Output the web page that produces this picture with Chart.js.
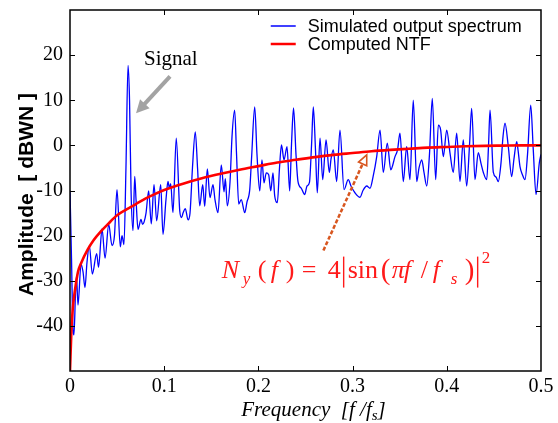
<!DOCTYPE html>
<html>
<head>
<meta charset="utf-8">
<script src="https://cdn.jsdelivr.net/npm/chart.js@4.4.1/dist/chart.umd.min.js"></script>
<style>
    body { margin: 0; background: #fff; }
    #wrap { width: 558px; height: 423px; }
</style>
</head>
<body>
<div id="wrap"><canvas id="ntfChart" width="558" height="423"></canvas></div>
<script>
// ========== DATA ==========
const seriesLabels = ['Simulated output spectrum', 'Computed NTF'];

// simulated output spectrum: frequency [f/fs] and amplitude [dBWN]
const specFreq = [
    0, 0.0016, 0.0032, 0.0042, 0.0058, 0.0069, 0.0085, 0.0117, 0.0138, 0.0159,
    0.0180, 0.0205, 0.0237, 0.0283, 0.0303, 0.0340, 0.0372, 0.0411, 0.0446, 0.0472,
    0.0499, 0.0534, 0.0552, 0.0573, 0.0594, 0.0616, 0.0632, 0.0648, 0.0669, 0.0687,
    0.0701, 0.0722, 0.0754, 0.0770, 0.0786, 0.0807, 0.0835, 0.0863, 0.0892, 0.0920,
    0.0963, 0.0987, 0.1019, 0.1040, 0.1056, 0.1069, 0.1093, 0.1128, 0.1165, 0.1184,
    0.1200, 0.1224, 0.1253, 0.1274, 0.1300, 0.1330, 0.1354, 0.1377, 0.1409, 0.1430,
    0.1458, 0.1486, 0.1518, 0.1539, 0.1571, 0.1606, 0.1635, 0.1649, 0.1670, 0.1699,
    0.1720, 0.1748, 0.1768, 0.1791, 0.1818, 0.1855, 0.1879, 0.1908, 0.1927, 0.1961,
    0.1985, 0.2014, 0.2038, 0.2059, 0.2084, 0.2109, 0.2131, 0.2155, 0.2173, 0.2201,
    0.2224, 0.2245, 0.2272, 0.2304, 0.2332, 0.2351, 0.2373, 0.2399, 0.2420, 0.2455,
    0.2492, 0.2516, 0.2542, 0.2564, 0.2583, 0.2606, 0.2625, 0.2654, 0.2683, 0.2718,
    0.2753, 0.2771, 0.2795, 0.2831, 0.2866, 0.2909, 0.2954, 0.2983, 0.3025, 0.3079,
    0.3110, 0.3150, 0.3185, 0.3217, 0.3256, 0.3291, 0.3326, 0.3368, 0.3405, 0.3450,
    0.3477, 0.3503, 0.3538, 0.3574, 0.3609, 0.3644, 0.3681, 0.3705, 0.3734, 0.3758,
    0.3787, 0.3816, 0.3846, 0.3882, 0.3910, 0.3935, 0.3963, 0.3999, 0.4034, 0.4069,
    0.4105, 0.4140, 0.4175, 0.4211, 0.4241, 0.4264, 0.4299, 0.4334, 0.4363, 0.4388,
    0.4424, 0.4443, 0.4459, 0.4494, 0.4522, 0.4547, 0.4575, 0.4597, 0.4618, 0.4653,
    0.4689, 0.4713, 0.4742, 0.4756, 0.4777, 0.4803, 0.4830, 0.4857, 0.4891, 0.4918,
    0.4947, 0.4982, 0.5
];
const specAmp = [
    -10, -25, -41, -42, -33, -29, -35.4, -26.3, -28, -31.5,
    -26, -22.2, -28.5, -24, -27, -18.5, -25, -17.5, -22.2, -20,
    -9.8, -22.5, -20, -22, -5, 17.7, 10, -10, -18.9, -6.9,
    -12, -18.6, -16.4, -17.5, -17, -15, -10.1, -17.4, -8.7, -16.7,
    -8.7, -19.7, -12, -8, -9.5, -8.5, -14.9, 1.6, -14.5, -16,
    -15, -14, -16.5, -15, -5, 3.0, -5, -13.4, -8.7, -13.5,
    -5.2, -11.6, -8.7, -12, -14.9, -4.3, -10.3, -7.4, -13.4, -8,
    2, 7.8, -2, -13, -12, -14.9, -12.5, -9.8, -3, 8.5,
    -2, -10.1, -3.2, -8.3, -6.1, -6.5, -10.1, -6.1, -11.2, -12.7,
    -5, 0.1, -3.2, -0.3, -10.1, 0, 8.3, -2, -8, -9.5,
    -10.9, -9, -8.2, 0, 8.5, -1, -10.5, 1.6, -7.6, 1.2,
    -6, -3, -1, -8, 3.4, -9.8, -7.6, -9, -10.5, -11.5,
    -10, -9, -9.5, -7, -2.5, 3.4, -6, 0.5, -5.4, -2.5,
    -1, 2.7, -8, -0.3, -7.6, 10, -8, -5, -3.2, -6,
    -9, -2, 10.4, -7.6, 4.5, 3.4, -2.5, 3.4, -1.7, -6,
    2.7, -8, 1.2, -9, 0, 8.2, -7.6, -1.6, -4, -6,
    -7.6, 0, 7.8, -6, -7, -8, -4, 2, 4.9, -0.3,
    -6.9, -3, 0.8, -1, -4.7, -6.5, -7.6, -2, 8.9, -1,
    -10.9, -3.9, -2
];

// computed NTF curve
const ntfFreq = [
    0, 0.0015, 0.003, 0.005, 0.0085, 0.012, 0.019, 0.025, 0.033, 0.04,
    0.05, 0.06, 0.07, 0.08, 0.09, 0.1, 0.12, 0.14, 0.16, 0.18,
    0.2, 0.22, 0.24, 0.26, 0.28, 0.3, 0.32, 0.34, 0.36, 0.38,
    0.4, 0.42, 0.44, 0.46, 0.48, 0.5
];
const ntfAmp = [
    -50, -41, -36, -32.5, -28, -26, -23, -21, -19, -17.5,
    -15.5, -14.2, -13, -11.8, -10.8, -9.9, -8.5, -7.3, -6.3, -5.4,
    -4.6, -3.8, -3.2, -2.6, -2.1, -1.7, -1.3, -1.0, -0.75, -0.5,
    -0.35, -0.2, -0.1, -0.05, 0, 0
];

const xTicks = [0, 0.1, 0.2, 0.3, 0.4, 0.5];
const yTicks = [-40, -30, -20, -10, 0, 10, 20];

// annotations, in data units (f, dB)
const signalArrow = { from: [0.1062, 15.3], to: [0.0701, 7.1], label: 'Signal', labelAt: [0.107, 19.5] };
const ntfArrow = { from: [0.269, -23.3], to: [0.315, -2.1] };
const formulaAt = [0.161, -29.3];

const SERIF = '"Liberation Serif", "Times New Roman", serif';
const SANS = '"Liberation Sans", Arial, sans-serif';

// ========== DRAW HELPERS ==========
function drawArrowHead(ctx, x1, y1, x2, y2, len, half, fill) {
    const a = Math.atan2(y2 - y1, x2 - x1);
    ctx.beginPath();
    ctx.moveTo(x2, y2);
    ctx.lineTo(x2 - len * Math.cos(a) + half * Math.sin(a), y2 - len * Math.sin(a) - half * Math.cos(a));
    ctx.lineTo(x2 - len * Math.cos(a) - half * Math.sin(a), y2 - len * Math.sin(a) + half * Math.cos(a));
    ctx.closePath();
    if (fill) ctx.fill(); else ctx.stroke();
}

function drawFormula(ctx, x0, yb) {
    // N_y(f) = 4|sin(πf / f_s)|^2
    const parts = [
        { t: 'N', dx: 0, it: true }, { t: 'y', dx: 21, it: true, sub: true },
        { t: '(', dx: 36 }, { t: 'f', dx: 49, it: true }, { t: ')', dx: 64 },
        { t: '=', dx: 80 }, { t: '4', dx: 106 }, { bar: true, dx: 122 },
        { t: 'sin', dx: 126 }, { t: '(', dx: 159, big: true }, { t: 'π', dx: 170, it: true },
        { t: 'f', dx: 182, it: true }, { t: '/', dx: 199 }, { t: 'f', dx: 211, it: true },
        { t: 's', dx: 229, it: true, sub: true }, { t: ')', dx: 243, big: true },
        { bar: true, dx: 256 }, { t: '2', dx: 260, sup: true }
    ];
    ctx.save();
    ctx.fillStyle = '#ff1a1a';
    ctx.strokeStyle = '#ff1a1a';
    ctx.textAlign = 'left';
    ctx.textBaseline = 'alphabetic';
    parts.forEach(p => {
        if (p.bar) {
            ctx.lineWidth = 1.4;
            ctx.beginPath();
            ctx.moveTo(x0 + p.dx, yb - 21);
            ctx.lineTo(x0 + p.dx, yb + 10);
            ctx.stroke();
            return;
        }
        let size = 26, dy = 0;
        if (p.big) { size = 29; dy = 1; }
        if (p.sub) { size = 17; dy = 6; }
        if (p.sup) { size = 17; dy = -15; }
        ctx.font = (p.it ? 'italic ' : '') + size + 'px ' + SERIF;
        ctx.fillText(p.t, x0 + p.dx, yb + dy);
    });
    ctx.restore();
}

// ========== FRAME / TICKS / LEGEND / NOTES ==========
const framePlugin = {
    id: 'frame',
    afterDatasetsDraw(chart) {
        const { ctx, chartArea: a, scales: { x, y } } = chart;
        ctx.save();

        // box
        ctx.strokeStyle = '#000';
        ctx.lineWidth = 1.5;
        ctx.strokeRect(a.left, a.top, a.right - a.left, a.bottom - a.top);

        // inward tick marks on all four sides
        ctx.lineWidth = 1;
        ctx.beginPath();
        xTicks.slice(1, -1).forEach(v => {
            const px = Math.round(x.getPixelForValue(v)) + 0.5;
            ctx.moveTo(px, a.bottom); ctx.lineTo(px, a.bottom - 5);
            ctx.moveTo(px, a.top); ctx.lineTo(px, a.top + 5);
        });
        yTicks.forEach(v => {
            const py = Math.round(y.getPixelForValue(v)) + 0.5;
            ctx.moveTo(a.left, py); ctx.lineTo(a.left + 5, py);
            ctx.moveTo(a.right, py); ctx.lineTo(a.right - 5, py);
        });
        ctx.stroke();

        // legend, top right inside the plot
        const lx = x.getPixelForValue(0.2131);
        chart.data.datasets.forEach((ds, i) => {
            const ly = a.top + 16 + i * 18;
            ctx.strokeStyle = ds.borderColor;
            ctx.lineWidth = i === 0 ? 1.5 : 2.5;
            ctx.beginPath();
            ctx.moveTo(lx, ly); ctx.lineTo(lx + 25, ly);
            ctx.stroke();
            ctx.fillStyle = '#000';
            ctx.font = '18px ' + SANS;
            ctx.textBaseline = 'middle';
            ctx.fillText(ds.label, lx + 37, ly + 1);
        });

        // "Signal" arrow
        const s0x = x.getPixelForValue(signalArrow.from[0]), s0y = y.getPixelForValue(signalArrow.from[1]);
        const s1x = x.getPixelForValue(signalArrow.to[0]), s1y = y.getPixelForValue(signalArrow.to[1]);
        ctx.strokeStyle = '#a3a3a3';
        ctx.fillStyle = '#a3a3a3';
        ctx.lineWidth = 4;
        const sa = Math.atan2(s1y - s0y, s1x - s0x);
        ctx.beginPath();
        ctx.moveTo(s0x, s0y);
        ctx.lineTo(s1x - 10 * Math.cos(sa), s1y - 10 * Math.sin(sa));
        ctx.stroke();
        drawArrowHead(ctx, s0x, s0y, s1x, s1y, 13, 6.5, true);
        ctx.fillStyle = '#000';
        ctx.font = '21px ' + SERIF;
        ctx.textAlign = 'center';
        ctx.textBaseline = 'alphabetic';
        ctx.fillText(signalArrow.label, x.getPixelForValue(signalArrow.labelAt[0]), y.getPixelForValue(signalArrow.labelAt[1]) + 8);

        // dashed arrow to the NTF curve
        const n0x = x.getPixelForValue(ntfArrow.from[0]), n0y = y.getPixelForValue(ntfArrow.from[1]);
        const n1x = x.getPixelForValue(ntfArrow.to[0]), n1y = y.getPixelForValue(ntfArrow.to[1]);
        const na = Math.atan2(n1y - n0y, n1x - n0x);
        ctx.strokeStyle = '#d8561f';
        ctx.lineWidth = 2.5;
        ctx.setLineDash([4, 2]);
        ctx.beginPath();
        ctx.moveTo(n0x, n0y);
        ctx.lineTo(n1x - 9 * Math.cos(na), n1y - 9 * Math.sin(na));
        ctx.stroke();
        ctx.setLineDash([]);
        ctx.lineWidth = 1.6;
        drawArrowHead(ctx, n0x, n0y, n1x, n1y, 10, 4.5, false);

        ctx.restore();

        drawFormula(ctx, x.getPixelForValue(formulaAt[0]), y.getPixelForValue(formulaAt[1]));
    },
    afterDraw(chart) {
        const { ctx, chartArea: a } = chart;
        ctx.save();
        ctx.fillStyle = '#000';

        // y axis title
        ctx.translate(27, (a.top + a.bottom) / 2 + 4);
        ctx.rotate(-Math.PI / 2);
        ctx.font = 'bold 21px ' + SANS;
        ctx.textAlign = 'center';
        ctx.textBaseline = 'middle';
        ctx.fillText('Amplitude  [ dBWN ]', 0, 0);
        ctx.restore();

        // x axis title: Frequency  [f /f_s]
        ctx.save();
        ctx.fillStyle = '#000';
        ctx.textBaseline = 'alphabetic';
        ctx.font = 'italic 21px ' + SERIF;
        const main = 'Frequency  [f /f';
        const wMain = ctx.measureText(main).width;
        ctx.font = 'italic 15px ' + SERIF;
        const wSub = ctx.measureText('s').width;
        ctx.font = 'italic 21px ' + SERIF;
        const wEnd = ctx.measureText(']').width;
        const total = wMain + wSub + wEnd;
        let tx = (a.left + a.right) / 2 + 8 - total / 2;
        const ty = 416;
        ctx.fillText(main, tx, ty);
        tx += wMain;
        ctx.font = 'italic 15px ' + SERIF;
        ctx.fillText('s', tx, ty + 4);
        tx += wSub;
        ctx.font = 'italic 21px ' + SERIF;
        ctx.fillText(']', tx, ty);
        ctx.restore();
    }
};

// ========== CHART ==========
function renderNtfChart() {
    const canvas = document.getElementById('ntfChart');

    const chart = new Chart(canvas, {
        type: 'scatter',
        data: {
            datasets: [
                {
                    label: seriesLabels[0],
                    data: specFreq.map((f, i) => ({ x: f, y: specAmp[i] })),
                    showLine: true,
                    borderColor: '#0000ff',
                    borderWidth: 1.3,
                    pointRadius: 0,
                    cubicInterpolationMode: 'monotone',
                    order: 2
                },
                {
                    label: seriesLabels[1],
                    data: ntfFreq.map((f, i) => ({ x: f, y: ntfAmp[i] })),
                    showLine: true,
                    borderColor: '#ff0000',
                    borderWidth: 2.6,
                    pointRadius: 0,
                    cubicInterpolationMode: 'monotone',
                    order: 1
                }
            ]
        },
        options: {
            responsive: false,
            animation: false,
            devicePixelRatio: 1,
            layout: { padding: { top: 10, right: 17, left: 0, bottom: 0 } },
            plugins: {
                legend: { display: false },
                tooltip: { enabled: false }
            },
            scales: {
                x: {
                    type: 'linear',
                    min: xTicks[0],
                    max: xTicks[xTicks.length - 1],
                    grid: { display: false, drawTicks: false },
                    border: { display: false },
                    afterBuildTicks: s => { s.ticks = xTicks.map(v => ({ value: v })); },
                    ticks: {
                        color: '#000',
                        font: { family: SERIF, size: 20 },
                        padding: 4,
                        maxRotation: 0,
                        callback: v => v === 0 ? '0' : v.toFixed(1)
                    },
                    afterFit: s => {
                        s.height = 52;
                        s.paddingLeft = 0;
                        s.paddingRight = 0;
                    }
                },
                y: {
                    min: -50,
                    max: 30,
                    grid: { display: false, drawTicks: false },
                    border: { display: false },
                    afterBuildTicks: s => { s.ticks = yTicks.map(v => ({ value: v })); },
                    ticks: {
                        color: '#000',
                        font: { family: SERIF, size: 20 },
                        padding: 7,
                        callback: v => String(v)
                    },
                    afterFit: s => {
                        s.width = 70;
                        s.paddingTop = 0;
                        s.paddingBottom = 0;
                    }
                }
            }
        },
        plugins: [framePlugin]
    });

    return chart;
}

renderNtfChart();
</script>
</body>
</html>
